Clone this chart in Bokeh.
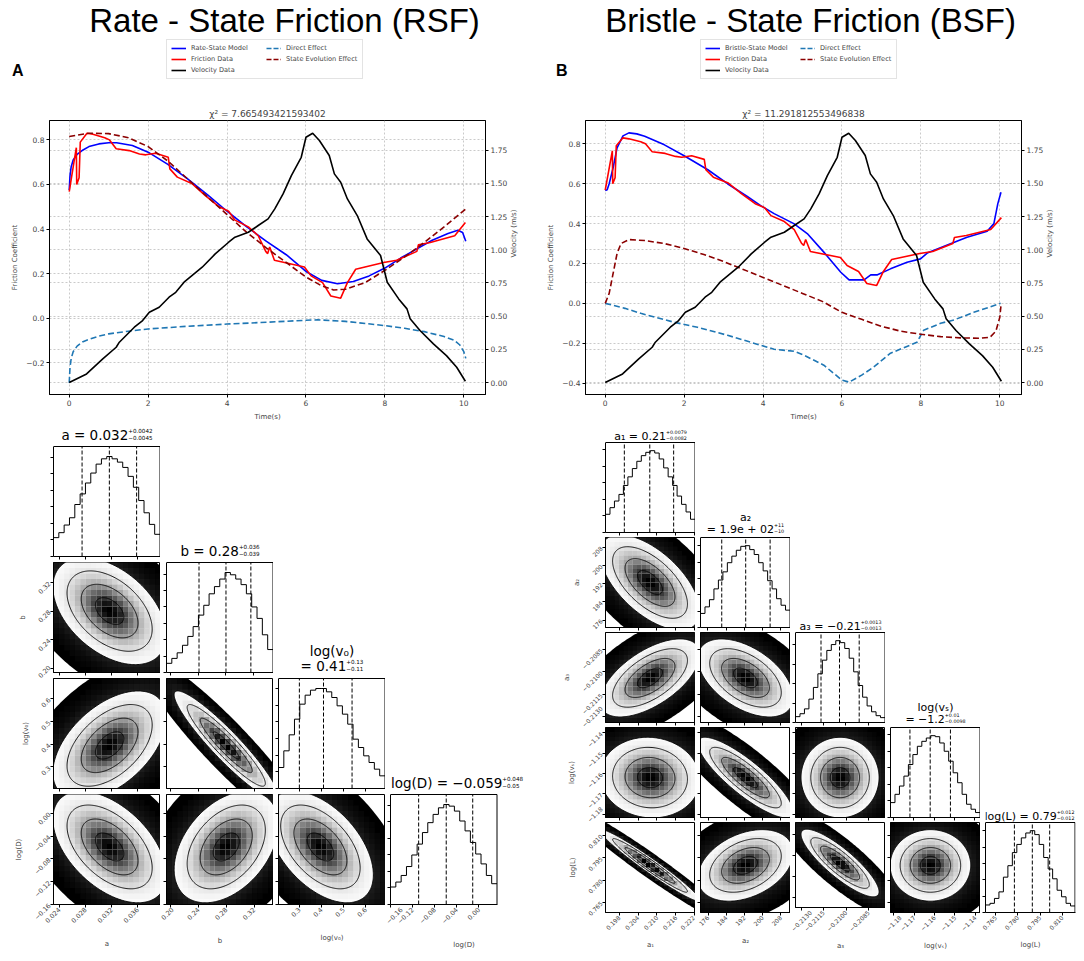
import numpy as np
from bokeh.plotting import figure
from bokeh.models import (Range1d, LinearAxis, FixedTicker, BasicTicker, CustomJSTickFormatter,
                          Legend, LegendItem, Spacer, Grid, Div)
from bokeh.layouts import row, column
from bokeh.embed import file_html
from bokeh.resources import INLINE
from bokeh.core.properties import value

FONT = "DejaVu Sans"
TITLE_FONT = "Liberation Sans"
C_MODEL = "#0000ff"
C_FRIC = "#ff0000"
C_VEL = "#000000"
C_DIRECT = "#1f77b4"
C_STATE = "#8b0000"
BASE_FIX = 0.3   # baseline correction (in em) for text glyphs
HEAD_H = 100     # header height (page top to line-chart top)

# ---------------- time-series data (shared measurements) ----------------
vel_t = [0.0, 0.44, 0.85, 1.19, 1.27, 1.65, 1.86, 2.03, 2.28, 2.53, 2.70, 2.91, 3.37, 3.70, 4.04,
         4.20, 4.54, 4.79, 5.04, 5.21, 5.42, 5.63, 5.88, 6.00, 6.17, 6.34, 6.59, 6.72, 6.88, 7.05,
         7.30, 7.55, 7.89, 8.06, 8.35, 8.56, 8.64, 8.89, 9.23, 9.56, 9.82, 10.04]
vel_v = [0.0, 0.065, 0.178, 0.266, 0.304, 0.417, 0.467, 0.53, 0.567, 0.643, 0.68, 0.756, 0.869, 0.969, 1.057,
         1.095, 1.132, 1.183, 1.233, 1.308, 1.421, 1.559, 1.697, 1.848, 1.878, 1.823, 1.71, 1.572, 1.509, 1.383,
         1.258, 1.082, 0.957, 0.756, 0.63, 0.555, 0.48, 0.392, 0.291, 0.203, 0.115, 0.01]

fric_t = [0.0, 0.12, 0.18, 0.19, 0.25, 0.28, 0.45, 0.6, 0.9, 1.02, 1.19, 1.52, 1.78, 1.94, 2.19, 2.51,
          2.55, 2.74, 3.12, 3.45, 3.8, 4.04, 4.2, 4.54, 4.79, 4.98, 5.03, 5.08, 5.2, 5.96, 6.13, 6.42,
          6.63, 6.88, 7.05, 7.26, 7.97, 8.3, 8.81, 8.85, 9.15, 9.77, 10.04]
fric_f = [0.568, 0.70, 0.765, 0.60, 0.63, 0.79, 0.83, 0.825, 0.81, 0.80, 0.76, 0.752, 0.737, 0.733, 0.74, 0.722,
          0.67, 0.633, 0.603, 0.55, 0.50, 0.48, 0.44, 0.41, 0.37, 0.30, 0.29, 0.32, 0.26, 0.23, 0.19, 0.16,
          0.10, 0.09, 0.16, 0.22, 0.25, 0.26, 0.30, 0.33, 0.34, 0.37, 0.43]

# RSF fit
rsf_model_t = [0.0, 0.02, 0.05, 0.1, 0.2, 0.35, 0.5, 0.75, 1.0, 1.2, 1.6, 2.0, 2.5, 3.0, 3.5, 4.0, 4.5,
               5.0, 5.5, 6.0, 6.4, 6.8, 7.2, 7.6, 8.0, 8.4, 8.8, 9.2, 9.6, 9.85, 9.97, 10.05]
rsf_model_f = [0.575, 0.64, 0.68, 0.71, 0.735, 0.755, 0.77, 0.782, 0.787, 0.787, 0.775, 0.745, 0.69, 0.625,
               0.555, 0.48, 0.41, 0.345, 0.285, 0.21, 0.17, 0.155, 0.165, 0.19, 0.225, 0.27, 0.31, 0.35,
               0.38, 0.395, 0.385, 0.345]
rsf_direct_t = [0.0, 0.02, 0.05, 0.1, 0.2, 0.35, 0.5, 0.75, 1.0, 1.5, 2.0, 3.0, 4.0, 5.0, 6.0, 6.3, 7.0,
                8.0, 8.5, 9.0, 9.5, 9.75, 9.9, 10.0, 10.05]
rsf_direct_f = [-0.29, -0.22, -0.18, -0.15, -0.125, -0.105, -0.095, -0.08, -0.07, -0.058, -0.048, -0.036,
                -0.026, -0.018, -0.009, -0.007, -0.014, -0.033, -0.045, -0.06, -0.082, -0.098, -0.12,
                -0.15, -0.18]
rsf_state_t = [0.0, 0.5, 1.0, 1.5, 2.0, 2.5, 3.0, 3.5, 4.0, 4.5, 5.0, 5.5, 6.0, 6.4, 6.7, 7.0, 7.5, 8.0,
               8.5, 9.0, 9.5, 10.05]
rsf_state_f = [0.815, 0.83, 0.828, 0.81, 0.77, 0.705, 0.625, 0.545, 0.465, 0.385, 0.315, 0.25, 0.185,
               0.145, 0.127, 0.13, 0.16, 0.215, 0.275, 0.34, 0.41, 0.49]

# BSF fit
bsf_model_t = [0.0, 0.05, 0.1, 0.2, 0.3, 0.45, 0.6, 0.8, 1.0, 1.5, 2.0, 2.6, 3.1, 3.6, 3.94, 4.28, 4.78,
               5.12, 5.54, 5.97, 6.18, 6.56, 6.73, 6.9, 7.23, 7.65, 7.99, 8.16, 8.67, 9.17, 9.68, 9.85,
               9.95, 10.03]
bsf_model_f = [0.566, 0.57, 0.60, 0.68, 0.78, 0.84, 0.855, 0.85, 0.838, 0.795, 0.74, 0.67, 0.60, 0.536,
               0.49, 0.45, 0.40, 0.35, 0.257, 0.156, 0.118, 0.118, 0.143, 0.143, 0.173, 0.206, 0.223,
               0.252, 0.293, 0.332, 0.362, 0.40, 0.50, 0.557]
bsf_direct_t = [0.0, 0.5, 0.9, 1.75, 2.34, 3.1, 3.94, 4.28, 4.78, 5.04, 5.54, 6.0, 6.18, 6.5, 6.8, 7.23,
                7.9, 8.07, 8.5, 8.84, 9.34, 10.02]
bsf_direct_f = [0.0, -0.025, -0.05, -0.095, -0.12, -0.16, -0.21, -0.23, -0.24, -0.26, -0.31, -0.385,
                -0.395, -0.36, -0.32, -0.25, -0.195, -0.135, -0.10, -0.083, -0.045, 0.0]
bsf_state_t = [0.0, 0.1, 0.2, 0.3, 0.4, 0.6, 1.0, 1.5, 2.0, 2.5, 3.0, 3.5, 4.0, 4.5, 5.0, 5.5, 6.0, 6.5,
               7.0, 7.5, 8.0, 8.5, 9.0, 9.5, 9.75, 9.9, 10.0, 10.03]
bsf_state_f = [0.0, 0.05, 0.15, 0.25, 0.30, 0.32, 0.315, 0.30, 0.275, 0.245, 0.21, 0.17, 0.13, 0.09,
               0.05, 0.01, -0.045, -0.08, -0.115, -0.14, -0.155, -0.167, -0.173, -0.175, -0.17, -0.14,
               -0.07, -0.01]

time_ticks = [0, 2, 4, 6, 8, 10]
vel_ticks = [0.0, 0.25, 0.5, 0.75, 1.0, 1.25, 1.5, 1.75]
rsf_fric_ticks = [-0.2, 0.0, 0.2, 0.4, 0.6, 0.8]
bsf_fric_ticks = [-0.4, -0.2, 0.0, 0.2, 0.4, 0.6, 0.8]

# ---------------- posterior (corner) data ----------------
rsf_names = ["a", "b", "log(v₀)", "log(D)"]
rsf_lo = [0.0231, 0.194, 0.205, -0.160]
rsf_hi = [0.0395, 0.348, 0.690, 0.033]
rsf_mean = [0.0317, 0.280, 0.395, -0.059]
rsf_sigma = [0.00435, 0.0375, 0.12, 0.049]
rsf_q16 = [0.0275, 0.241, 0.30, -0.109]
rsf_q50 = [0.0317, 0.280, 0.41, -0.059]
rsf_q84 = [0.0359, 0.316, 0.54, -0.011]
rsf_ticks = [[0.024, 0.028, 0.032, 0.036], [0.20, 0.24, 0.28, 0.32], [0.3, 0.4, 0.5, 0.6],
             [-0.16, -0.12, -0.08, -0.04, 0.00]]
rsf_decimals = [3, 2, 1, 2]
rsf_pair_row = [1, 2, 2, 3, 3, 3]
rsf_pair_col = [0, 0, 1, 0, 1, 2]
rsf_pair_rho = [-0.45, 0.5, -0.93, -0.5, 0.4, -0.5]
rsf_hist = [
    [57, 72, 95, 117, 157, 189, 222, 252, 279, 295, 302, 295, 285, 269, 242, 209, 169, 132, 97, 67],
    [28, 43, 60, 83, 110, 140, 175, 205, 240, 262, 285, 305, 298, 285, 268, 240, 200, 165, 115, 70],
    [63, 113, 161, 208, 253, 280, 295, 300, 300, 290, 273, 248, 223, 193, 148, 123, 98, 78, 58, 38],
    [53, 68, 88, 115, 150, 183, 218, 248, 273, 293, 303, 298, 283, 253, 223, 188, 153, 123, 88, 63],
]
rsf_title_line1 = ["", "", "log(v₀)", ""]
rsf_title_main = ["a = 0.032", "b = 0.28", "= 0.41", "log(D) = −0.059"]
rsf_title_sup = ["+0.0042", "+0.036", "+0.13", "+0.048"]
rsf_title_sub = ["−0.0045", "−0.039", "−0.11", "−0.05"]

bsf_names = ["a₁", "a₂", "a₃", "log(vₛ)", "log(L)"]
bsf_lo = [0.1937, 172.7, -0.21337, -1.1816, 0.7582]
bsf_hi = [0.2222, 212.3, -0.20737, -1.1374, 0.8186]
bsf_mean = [0.2078, 192.5, -0.2104, -1.162, 0.7898]
bsf_sigma = [0.0079, 10.5, 0.0013, 0.0099, 0.012]
bsf_q16 = [0.1997, 182.1, -0.21166, -1.1720, 0.7777]
bsf_q50 = [0.2078, 192.7, -0.21042, -1.1620, 0.7898]
bsf_q84 = [0.2154, 203.5, -0.20910, -1.1520, 0.8015]
bsf_ticks = [[0.198, 0.204, 0.210, 0.216, 0.222], [176, 184, 192, 200, 208],
             [-0.2130, -0.2115, -0.2100, -0.2085], [-1.18, -1.17, -1.16, -1.15, -1.14],
             [0.765, 0.780, 0.795, 0.810]]
bsf_decimals = [3, 0, 4, 2, 3]
bsf_pair_row = [1, 2, 2, 3, 3, 3, 4, 4, 4, 4]
bsf_pair_col = [0, 0, 1, 0, 1, 2, 0, 1, 2, 3]
bsf_pair_rho = [-0.6, 0.6, -0.5, -0.05, -0.85, 0.0, -0.97, 0.35, -0.85, 0.0]
bsf_hist = [
    [55, 75, 95, 115, 142, 168, 193, 215, 232, 242, 247, 240, 222, 195, 168, 142, 110, 85, 62, 40],
    [43, 63, 85, 118, 145, 170, 198, 218, 236, 248, 250, 238, 223, 198, 173, 143, 118, 88, 68, 53],
    [6, 9, 14, 24, 36, 50, 64, 74, 80, 84, 82, 76, 66, 52, 38, 26, 17, 11, 7, 5],
    [45, 70, 95, 125, 160, 190, 215, 230, 240, 247, 244, 225, 200, 170, 135, 105, 70, 40, 25, 15],
    [23, 28, 43, 63, 108, 143, 183, 208, 228, 243, 250, 238, 208, 168, 133, 103, 68, 48, 28, 20],
]
bsf_title_line1 = ["", "a₂", "", "log(vₛ)", ""]
bsf_title_main = ["a₁ = 0.21", "= 1.9e + 02", "a₃ = −0.21", "= −1.2", "log(L) = 0.79"]
bsf_title_sup = ["+0.0079", "+11", "+0.0013", "+0.01", "+0.012"]
bsf_title_sub = ["−0.0082", "−10", "−0.0013", "−0.0098", "−0.012"]

# ---------------- helpers ----------------
CW = {'.': .318, ' ': .318, '=': .838, '+': .838, '−': .838, '-': .361, 'a': .613, 'b': .635,
      'e': .615, 'g': .635, 'l': .278, 'o': .612, '(': .390, ')': .390, 'v': .592, 'D': .770,
      'L': .557, '₀': .401, '₁': .401, '₂': .401, '₃': .401, 'ₛ': .33}


def text_w(s, size):
    return sum(CW.get(c, .636) for c in s) * size


def tick_fmt(dec):
    return CustomJSTickFormatter(code=(
        "const v = Math.abs(tick) < 1e-12 ? 0 : tick;"
        f"const s = Math.abs(v).toFixed({dec});"
        "return (v < 0 ? '\\u2212' : '') + s;"))


def style_line_axis(ax, label):
    ax.axis_label = label
    ax.axis_label_text_font = FONT
    ax.axis_label_text_font_size = '7px'
    ax.axis_label_text_font_style = 'normal'
    ax.axis_label_standoff = 4
    ax.major_label_text_font = FONT
    ax.major_label_text_font_size = '7.5px'
    ax.major_label_standoff = 2
    ax.major_tick_out = 3
    ax.major_tick_in = 0
    ax.minor_tick_line_color = None
    ax.axis_line_color = 'black'


def header(width, lb, title, title_cx, letter, letter_pad, model_label, legend_x, series):
    rb = 55
    letter_div = Div(width=lb, height=HEAD_H, margin=0, text=(
        f'<div style="padding:62px 0 0 {letter_pad}px; font-family:\'{TITLE_FONT}\', Arial, sans-serif;'
        f' font-weight:bold; font-size:16px; line-height:18px; color:#000;">{letter}</div>'))
    h = figure(width=width - lb, height=HEAD_H, x_range=Range1d(lb, width - rb),
               y_range=Range1d(HEAD_H, 0), x_axis_type=None, y_axis_type=None, title=None,
               output_backend='svg', toolbar_location=None, min_border_left=0, min_border_right=rb,
               min_border_top=0, min_border_bottom=0, outline_line_color=None)
    h.extra_y_ranges = {'hidden': Range1d(-100, -99)}
    h.text(x=[title_cx], y=[30 - BASE_FIX * 33], text=[title], text_font=value(TITLE_FONT),
           text_font_size='33px', text_align='center', text_baseline='alphabetic', text_color='black')
    specs = [(model_label, C_MODEL, 'solid'), ('Friction Data', C_FRIC, 'solid'),
             ('Velocity Data', C_VEL, 'solid'), ('Direct Effect', C_DIRECT, '5 2'),
             ('State Evolution Effect', C_STATE, '5 2')]
    items = []
    for (lab, col, dash), (sx, sy) in zip(specs, series):
        # legend keys: the real series on an off-screen range (only the key is visible)
        r = h.line(sx, sy, line_color=col, line_width=1.6, line_dash=dash, y_range_name='hidden')
        items.append(LegendItem(label=lab, renderers=[r]))
    lg = Legend(items=items, location=(legend_x - lb, 21), nrows=3, orientation='vertical', margin=0,
                padding=4, spacing=3, glyph_width=15, glyph_height=8, label_height=8, label_width=72,
                label_standoff=5, label_text_font=FONT, label_text_font_size='6.6px',
                border_line_color='#c8c8c8', border_line_width=1, background_fill_color='white',
                background_fill_alpha=1.0)
    h.add_layout(lg)
    return row(letter_div, h)


def line_chart(width, lb, title, ylim, yticks, mt, mf, dt, df, st, sf):
    p = figure(width=width, height=324, x_range=Range1d(-0.5, 10.55), y_range=Range1d(*ylim),
               title=title, output_backend='svg', toolbar_location=None, min_border_left=lb,
               min_border_right=55, min_border_top=20, min_border_bottom=30)
    p.title.align = 'center'
    p.title.text_font = FONT
    p.title.text_font_size = '9px'
    p.title.text_font_style = 'normal'
    p.title.standoff = 4
    p.extra_y_ranges = {'vel': Range1d(-0.09, 1.974)}
    p.outline_line_color = 'black'
    p.xaxis.ticker = FixedTicker(ticks=time_ticks)
    p.xaxis.formatter = tick_fmt(0)
    p.yaxis.ticker = FixedTicker(ticks=yticks)
    p.yaxis.formatter = tick_fmt(1)
    style_line_axis(p.xaxis[0], 'Time(s)')
    style_line_axis(p.yaxis[0], 'Friction Coefficient')
    ax2 = LinearAxis(y_range_name='vel', ticker=FixedTicker(ticks=vel_ticks), formatter=tick_fmt(2))
    style_line_axis(ax2, 'Velocity (m/s)')
    if 'axis_label_orientation' in LinearAxis.properties():
        ax2.axis_label_orientation = np.pi / 2   # read bottom-to-top, like the left label
    p.add_layout(ax2, 'right')
    p.xgrid.ticker = FixedTicker(ticks=time_ticks)
    p.ygrid.ticker = FixedTicker(ticks=yticks)
    g2 = Grid(dimension=1, ticker=FixedTicker(ticks=vel_ticks), y_range_name='vel')
    p.add_layout(g2)
    for g in (p.xgrid[0], p.ygrid[0], g2):
        g.grid_line_color = '#bdbdbd'
        g.grid_line_dash = '2 2'
        g.grid_line_width = 0.8
    p.line(mt, mf, line_color=C_MODEL, line_width=1.6)
    p.line(fric_t, fric_f, line_color=C_FRIC, line_width=1.6)
    p.line(dt, df, line_color=C_DIRECT, line_width=1.6, line_dash='6 3')
    p.line(st, sf, line_color=C_STATE, line_width=1.6, line_dash='6 3')
    p.line(vel_t, vel_v, line_color=C_VEL, line_width=1.6, y_range_name='vel')
    return p


def style_corner_axis(ax, show, label, font, standoff):
    ax.major_tick_out = 3
    ax.major_tick_in = 0
    ax.minor_tick_line_color = None
    ax.axis_line_color = 'black'
    ax.major_label_text_font = FONT
    if show:
        ax.major_label_text_font_size = font
        ax.major_label_orientation = np.pi / 4
        ax.major_label_standoff = 1
        ax.axis_label = label
        ax.axis_label_text_font = FONT
        ax.axis_label_text_font_size = '7px'
        ax.axis_label_text_font_style = 'normal'
        ax.axis_label_standoff = standoff
    else:
        ax.formatter = CustomJSTickFormatter(code="return '';")
        ax.major_label_text_font_size = '0px'
        ax.major_label_standoff = 0


def density(f, mx, my, sx, sy, r, xlo, xhi, ylo, yhi):
    th = np.linspace(0, 2 * np.pi, 241)

    def ell(k):
        return (mx + k * sx * np.cos(th),
                my + k * sy * (r * np.cos(th) + np.sqrt(1 - r * r) * np.sin(th)))
    ex, ey = ell(3.3)
    f.patch(ex, ey, fill_color='black', line_color=None)
    ex, ey = ell(2.0)
    f.patch(ex, ey, fill_color='white', line_color=None)
    xe = np.linspace(xlo, xhi, 21)
    ye = np.linspace(ylo, yhi, 21)
    X, Y = np.meshgrid(0.5 * (xe[:-1] + xe[1:]), 0.5 * (ye[:-1] + ye[1:]))
    L, B = np.meshgrid(xe[:-1], ye[:-1])
    R, T = np.meshgrid(xe[1:], ye[1:])
    dx = (X - mx) / sx
    dy = (Y - my) / sy
    H = np.exp(-0.5 * (dx * dx - 2 * r * dx * dy + dy * dy) / (1 - r * r))
    t = (H.max() - H) / (H.max() - H.min())
    m = t < 0.985
    cols = ['#%02x%02x%02x' % (v, v, v) for v in (t[m] * 255).astype(int)]
    f.quad(left=L[m], right=R[m], bottom=B[m], top=T[m], fill_color=cols,
           fill_alpha=list(1 - t[m]), line_color=None)
    for k in (0.5, 1.0, 1.5, 2.0):
        ex, ey = ell(k)
        f.line(ex, ey, line_color='black', line_width=0.9)


def corner(names, lo, hi, mean, sigma, prow, pcol, prho, q16, q50, q84, hist, ticks, decs,
           t_line1, t_main, t_sup, t_sub, G):
    n = len(names)
    rho = np.eye(n)
    for i, j, r in zip(prow, pcol, prho):
        rho[i, j] = rho[j, i] = r
    fw, fh = G['fw'], G['fh']
    cols = []
    for j in range(n):
        kids = []
        last_col = j == n - 1
        wj = G['borders'][j] + fw + (G['right_last'] if last_col else 0)
        if j > 0:
            kids.append(Spacer(width=wj, height=G['row_tops'][j] - G['T']))
        for i in range(j, n):
            diag = i == j
            bot = G['bottom'] if i == n - 1 else G['vgap']
            if diag:
                # the frame also holds the title strip above the histogram box
                Tt = G['row_tops'][0] if j == 0 else G['T']
                ext = G['ext'] if last_col else 0
                ybox = 1.1 * max(hist[j])
                xpx = (hi[j] - lo[j]) / (fw - 0.5)
                ypx = ybox / fh
                f = figure(width=wj, height=Tt + fh + bot,
                           x_range=Range1d(lo[j], lo[j] + xpx * (fw + ext)),
                           y_range=Range1d(0, ypx * (fh + Tt)), title=None, output_backend='svg',
                           toolbar_location=None, min_border_left=G['borders'][j],
                           min_border_right=(G['right_last'] - ext if last_col else 0),
                           min_border_top=0, min_border_bottom=bot)
                f.grid.visible = False
                f.outline_line_color = None
                f.xaxis.ticker = FixedTicker(ticks=ticks[j])
                f.xaxis.formatter = tick_fmt(decs[j])
                f.xaxis.bounds = (lo[j], hi[j])
                style_corner_axis(f.xaxis[0], i == n - 1, names[j], G['tick_font'], G['xstand'])
                f.yaxis.ticker = BasicTicker(desired_num_ticks=6)
                f.yaxis.bounds = (0, ybox)
                style_corner_axis(f.yaxis[0], False, '', G['tick_font'], 0)
                f.segment(x0=[hi[j], lo[j]], y0=[0, ybox], x1=[hi[j], hi[j]], y1=[ybox, ybox],
                          line_color='black', line_width=1)
                edges = list(np.linspace(lo[j], hi[j], 21))
                f.step(x=edges, y=list(hist[j]) + [hist[j][-1]], mode='after',
                       line_color='black', line_width=1)
                qs = [q16[j], q50[j], q84[j]]
                f.segment(x0=qs, y0=[0] * 3, x1=qs, y1=[ybox] * 3, line_color='black',
                          line_dash='4 2', line_width=1)
                # title (main text, superscript, subscript, optional first line)
                ms, ss = G['main_font'], G['sup_font']
                wm = text_w(t_main[j], ms)
                ws = max(text_w(t_sup[j], ss), text_w(t_sub[j], ss))
                xj = fw / 2 - (wm + ws) / 2 + wm + G['title_shift'][j]
                two = t_line1[j] != ''
                dm = G['d2'] if two else G['d1']
                X0 = lo[j] + xj * xpx
                f.text(x=[X0], y=[ybox + (dm + BASE_FIX * ms) * ypx], text=[t_main[j]],
                       text_align='right', text_baseline='alphabetic', text_font=value(FONT),
                       text_font_size=f'{ms}px', text_color='black')
                f.text(x=[X0, X0], y=[ybox + (dm + G['dsup'] + BASE_FIX * ss) * ypx,
                                      ybox + (dm + G['dsub'] + BASE_FIX * ss) * ypx],
                       text=[t_sup[j], t_sub[j]], text_align='left', text_baseline='alphabetic',
                       text_font=value(FONT), text_font_size=f'{ss}px', text_color='black')
                if two:
                    f.text(x=[lo[j] + (fw / 2 + G['title_shift'][j]) * xpx],
                           y=[ybox + (G['dline1'] + BASE_FIX * ms) * ypx], text=[t_line1[j]],
                           text_align='center', text_baseline='alphabetic', text_font=value(FONT),
                           text_font_size=f'{ms}px', text_color='black')
            else:
                f = figure(width=wj, height=fh + bot, x_range=Range1d(lo[j], hi[j]),
                           y_range=Range1d(lo[i], hi[i]), title=None, output_backend='svg',
                           toolbar_location=None, min_border_left=G['borders'][j],
                           min_border_right=(G['right_last'] if last_col else 0),
                           min_border_top=0, min_border_bottom=bot)
                f.grid.visible = False
                f.outline_line_color = 'black'
                f.outline_line_width = 1
                f.xaxis.ticker = FixedTicker(ticks=ticks[j])
                f.xaxis.formatter = tick_fmt(decs[j])
                style_corner_axis(f.xaxis[0], i == n - 1, names[j], G['tick_font'], G['xstand'])
                f.yaxis.ticker = FixedTicker(ticks=ticks[i])
                f.yaxis.formatter = tick_fmt(decs[i])
                style_corner_axis(f.yaxis[0], j == 0, names[i], G['tick_font'], 6)
                density(f, mean[j], mean[i], sigma[j], sigma[i], rho[i, j], lo[j], hi[j], lo[i], hi[i])
            kids.append(f)
        cols.append(column(*kids))
    return row(*cols)


G_L = dict(fw=107, fh=110, borders=[45, 6, 5, 5], right_last=43, ext=40,
           row_tops=[22, 138, 254, 370], vgap=6, T=45, bottom=49, tick_font='6.5px', xstand=12,
           main_font=13.5, sup_font=5.6, d1=7, d2=8, dline1=23, dsup=7, dsub=0.5,
           title_shift=[0, 0, 0, 13])
G_R = dict(fw=90, fh=90, borders=[65, 5, 5, 5, 5], right_last=1, ext=0,
           row_tops=[18, 113, 208, 303, 398], vgap=5, T=45, bottom=41, tick_font='6px', xstand=6,
           main_font=11.0, sup_font=4.8, d1=3, d2=5, dline1=17, dsup=6, dsub=0.3,
           title_shift=[0, 0, 0, 0, -1])

# ---------------- assemble ----------------
rsf_series = [(rsf_model_t, rsf_model_f), (fric_t, fric_f), (vel_t, vel_v),
              (rsf_direct_t, rsf_direct_f), (rsf_state_t, rsf_state_f)]
bsf_series = [(bsf_model_t, bsf_model_f), (fric_t, fric_f), (vel_t, vel_v),
              (bsf_direct_t, bsf_direct_f), (bsf_state_t, bsf_state_f)]

head_L = header(532, 38, "Rate - State Friction (RSF)", 276, "A", 4, "Rate-State Model", 158, rsf_series)
head_R = header(536, 45, "Bristle - State Friction (BSF)", 270, "B", 16, "Bristle-State Model", 160,
                bsf_series)

line_L = line_chart(532, 38, "χ² = 7.665493421593402", (-0.342, 0.887), rsf_fric_ticks,
                    rsf_model_t, rsf_model_f, rsf_direct_t, rsf_direct_f, rsf_state_t, rsf_state_f)
line_R = line_chart(536, 45, "χ² = 11.291812553496838", (-0.457, 0.917), bsf_fric_ticks,
                    bsf_model_t, bsf_model_f, bsf_direct_t, bsf_direct_f, bsf_state_t, bsf_state_f)

corner_L = corner(rsf_names, rsf_lo, rsf_hi, rsf_mean, rsf_sigma, rsf_pair_row, rsf_pair_col,
                  rsf_pair_rho, rsf_q16, rsf_q50, rsf_q84, rsf_hist, rsf_ticks, rsf_decimals,
                  rsf_title_line1, rsf_title_main, rsf_title_sup, rsf_title_sub, G_L)
corner_R = corner(bsf_names, bsf_lo, bsf_hi, bsf_mean, bsf_sigma, bsf_pair_row, bsf_pair_col,
                  bsf_pair_rho, bsf_q16, bsf_q50, bsf_q84, bsf_hist, bsf_ticks, bsf_decimals,
                  bsf_title_line1, bsf_title_main, bsf_title_sup, bsf_title_sub, G_R)

layout = row(Spacer(width=8, height=953),
             column(head_L, line_L, corner_L),
             column(head_R, line_R, corner_R))

open("out.html", "w").write(file_html(layout, INLINE, title="RSF vs BSF"))
